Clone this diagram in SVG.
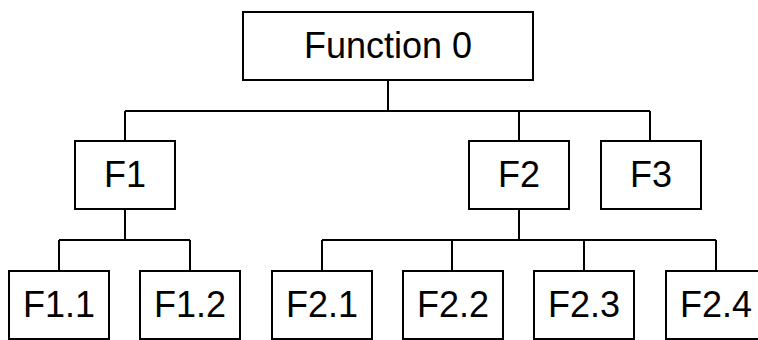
<svg xmlns="http://www.w3.org/2000/svg" width="758" height="340" viewBox="0 0 758 340">
  <style>
    .box { fill: #ffffff; stroke: #000000; stroke-width: 2; }
    .lbl { font-family: "Liberation Sans", Arial, sans-serif; font-size: 36px; fill: #000000; text-anchor: middle; }
    .wire { fill: none; stroke: #000000; stroke-width: 2; }
  </style>
  <rect width="758" height="340" fill="#ffffff"/>

  <!-- tree connectors -->
  <g id="connectors">
    <path class="wire" d="M388 80 V111 M125 111 H650 M125 111 V141 M519 111 V141 M650 111 V141"/>
    <path class="wire" d="M125 209 V240 M59 240 H190 M59 240 V271 M190 240 V271"/>
    <path class="wire" d="M519 209 V240 M322 240 H716 M322 240 V271 M452 240 V271 M584 240 V271 M716 240 V271"/>
  </g>

  <g id="f0">
    <rect class="box" x="243" y="12" width="290" height="68"/>
    <text class="lbl" x="388" y="58">Function 0</text>
  </g>

  <g id="f1">
    <rect class="box" x="75" y="141" width="100" height="68"/>
    <text class="lbl" x="125" y="187">F1</text>
  </g>
  <g id="f2">
    <rect class="box" x="469" y="141" width="100" height="68"/>
    <text class="lbl" x="519" y="187">F2</text>
  </g>
  <g id="f3">
    <rect class="box" x="601" y="141" width="100" height="68"/>
    <text class="lbl" x="651" y="187">F3</text>
  </g>

  <g id="f1_1">
    <rect class="box" x="9" y="271" width="100" height="68"/>
    <text class="lbl" x="59" y="317">F1.1</text>
  </g>
  <g id="f1_2">
    <rect class="box" x="140" y="271" width="100" height="68"/>
    <text class="lbl" x="190" y="317">F1.2</text>
  </g>
  <g id="f2_1">
    <rect class="box" x="272" y="271" width="100" height="68"/>
    <text class="lbl" x="322" y="317">F2.1</text>
  </g>
  <g id="f2_2">
    <rect class="box" x="403" y="271" width="100" height="68"/>
    <text class="lbl" x="453" y="317">F2.2</text>
  </g>
  <g id="f2_3">
    <rect class="box" x="534" y="271" width="100" height="68"/>
    <text class="lbl" x="584" y="317">F2.3</text>
  </g>
  <g id="f2_4">
    <rect class="box" x="666" y="271" width="100" height="68"/>
    <text class="lbl" x="716" y="317">F2.4</text>
  </g>
</svg>
